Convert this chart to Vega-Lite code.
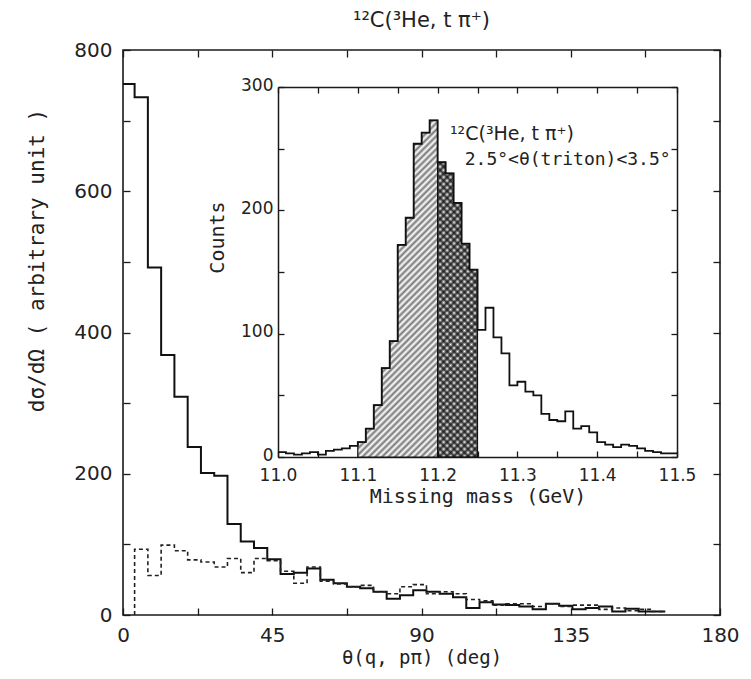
{
  "$schema": "https://vega.github.io/schema/vega-lite/v6.json",
  "width": 597,
  "height": 565,
  "autosize": {"type": "none"},
  "padding": {"left": 123, "top": 50, "right": 31, "bottom": 64},
  "background": "white",
  "title": {"text": "¹²C(³He, t π⁺)", "fontSize": 21, "fontWeight": "normal", "font": "DejaVu Sans", "color": "#222", "offset": 9},
  "config": {
    "view": {"stroke": "#1a1a1a", "strokeWidth": 1.6},
    "font": "DejaVu Sans",
    "axis": {"grid": false, "labelFont": "DejaVu Sans", "titleFont": "DejaVu Sans Mono", "labelColor": "#222", "titleColor": "#222", "tickColor": "#1a1a1a", "domainColor": "#1a1a1a", "titleFontWeight": "normal", "tickWidth": 1.3, "labelFlush": false, "labelOverlap": false}
  },
  "datasets": {
    "solid": [
      {"deg": 0, "v": 752}, {"deg": 3.5, "v": 733}, {"deg": 7.5, "v": 492}, {"deg": 11.5, "v": 368},
      {"deg": 15.5, "v": 309}, {"deg": 19.5, "v": 238}, {"deg": 23.5, "v": 201}, {"deg": 27.5, "v": 197},
      {"deg": 31.5, "v": 129}, {"deg": 35.5, "v": 104}, {"deg": 39.5, "v": 95}, {"deg": 43.5, "v": 79},
      {"deg": 47.5, "v": 58}, {"deg": 51.5, "v": 60}, {"deg": 55.5, "v": 66}, {"deg": 59.5, "v": 50},
      {"deg": 63.5, "v": 45}, {"deg": 67.5, "v": 40}, {"deg": 71.5, "v": 38}, {"deg": 75.5, "v": 33},
      {"deg": 79.5, "v": 23}, {"deg": 83.5, "v": 28}, {"deg": 87.5, "v": 35}, {"deg": 91.5, "v": 33},
      {"deg": 95.5, "v": 30}, {"deg": 99.5, "v": 25}, {"deg": 103.5, "v": 10}, {"deg": 107.5, "v": 18},
      {"deg": 111.5, "v": 15}, {"deg": 115.5, "v": 14}, {"deg": 119.5, "v": 12}, {"deg": 123.5, "v": 8},
      {"deg": 127.5, "v": 16}, {"deg": 131.5, "v": 13}, {"deg": 135.5, "v": 8}, {"deg": 139.5, "v": 10},
      {"deg": 143.5, "v": 12}, {"deg": 147.5, "v": 5}, {"deg": 151.5, "v": 9}, {"deg": 155.5, "v": 5},
      {"deg": 159.5, "v": 5}, {"deg": 163.5, "v": 5}
    ],
    "dashed": [
      {"i": 0, "deg": 3.5, "v": 0}, {"i": 1, "deg": 3.5, "v": 93}, {"i": 2, "deg": 7.5, "v": 56}, {"i": 3, "deg": 11.5, "v": 99},
      {"i": 4, "deg": 15.5, "v": 91}, {"i": 5, "deg": 19.5, "v": 78}, {"i": 6, "deg": 23.5, "v": 75}, {"i": 7, "deg": 27.5, "v": 68},
      {"i": 8, "deg": 31.5, "v": 80}, {"i": 9, "deg": 35.5, "v": 60}, {"i": 10, "deg": 39.5, "v": 80}, {"i": 11, "deg": 43.5, "v": 77},
      {"i": 12, "deg": 47.5, "v": 62}, {"i": 13, "deg": 51.5, "v": 45}, {"i": 14, "deg": 55.5, "v": 68}, {"i": 15, "deg": 59.5, "v": 48},
      {"i": 16, "deg": 63.5, "v": 44}, {"i": 17, "deg": 67.5, "v": 40}, {"i": 18, "deg": 71.5, "v": 42}, {"i": 19, "deg": 75.5, "v": 33},
      {"i": 20, "deg": 79.5, "v": 30}, {"i": 21, "deg": 83.5, "v": 40}, {"i": 22, "deg": 87.5, "v": 43}, {"i": 23, "deg": 91.5, "v": 30},
      {"i": 24, "deg": 95.5, "v": 33}, {"i": 25, "deg": 99.5, "v": 30}, {"i": 26, "deg": 103.5, "v": 22}, {"i": 27, "deg": 107.5, "v": 20},
      {"i": 28, "deg": 111.5, "v": 14}, {"i": 29, "deg": 115.5, "v": 16}, {"i": 30, "deg": 119.5, "v": 16}, {"i": 31, "deg": 123.5, "v": 12},
      {"i": 32, "deg": 127.5, "v": 16}, {"i": 33, "deg": 131.5, "v": 12}, {"i": 34, "deg": 135.5, "v": 14}, {"i": 35, "deg": 139.5, "v": 14},
      {"i": 36, "deg": 143.5, "v": 8}, {"i": 37, "deg": 147.5, "v": 10}, {"i": 38, "deg": 151.5, "v": 6}, {"i": 39, "deg": 155.5, "v": 8},
      {"i": 40, "deg": 159.5, "v": 5}, {"i": 41, "deg": 163.5, "v": 5}
    ],
    "inset": [
      {"m": 11.00, "c": 4}, {"m": 11.01, "c": 3}, {"m": 11.02, "c": 2}, {"m": 11.03, "c": 3}, {"m": 11.04, "c": 4},
      {"m": 11.05, "c": 2}, {"m": 11.06, "c": 5}, {"m": 11.07, "c": 6}, {"m": 11.08, "c": 7}, {"m": 11.09, "c": 9},
      {"m": 11.10, "c": 12}, {"m": 11.11, "c": 23}, {"m": 11.12, "c": 42}, {"m": 11.13, "c": 72}, {"m": 11.14, "c": 94},
      {"m": 11.15, "c": 172}, {"m": 11.16, "c": 194}, {"m": 11.17, "c": 254}, {"m": 11.18, "c": 263}, {"m": 11.19, "c": 273},
      {"m": 11.20, "c": 239}, {"m": 11.21, "c": 230}, {"m": 11.22, "c": 206}, {"m": 11.23, "c": 173}, {"m": 11.24, "c": 152},
      {"m": 11.25, "c": 103}, {"m": 11.26, "c": 121}, {"m": 11.27, "c": 97}, {"m": 11.28, "c": 84}, {"m": 11.29, "c": 58},
      {"m": 11.30, "c": 61}, {"m": 11.31, "c": 53}, {"m": 11.32, "c": 50}, {"m": 11.33, "c": 35}, {"m": 11.34, "c": 30},
      {"m": 11.35, "c": 29}, {"m": 11.36, "c": 37}, {"m": 11.37, "c": 23}, {"m": 11.38, "c": 25}, {"m": 11.39, "c": 20},
      {"m": 11.40, "c": 12}, {"m": 11.41, "c": 10}, {"m": 11.42, "c": 8}, {"m": 11.43, "c": 10}, {"m": 11.44, "c": 9},
      {"m": 11.45, "c": 7}, {"m": 11.46, "c": 5}, {"m": 11.47, "c": 4}, {"m": 11.48, "c": 3}, {"m": 11.49, "c": 3},
      {"m": 11.50, "c": 3}
    ],
    "notes": [
      {"m": 11.2155, "c": 262, "t": "¹²C(³He, t π⁺)"},
      {"m": 11.234, "c": 241, "t": "2.5°<θ(triton)<3.5°"}
    ]
  },
  "layer": [
    {
      "encoding": {
        "x": {"field": "deg", "type": "quantitative", "scale": {"domain": [0, 180], "nice": false},
          "axis": {"orient": "bottom", "values": [0, 22.5, 45, 67.5, 90, 112.5, 135, 157.5, 180], "labelExpr": "datum.value % 45 === 0 ? datum.label : ''", "tickSize": -7, "labelPadding": 17, "domain": false, "labelFontSize": 20, "title": "θ(q, pπ) (deg)", "titleFontSize": 19, "titlePadding": 3}},
        "y": {"field": "v", "type": "quantitative", "scale": {"domain": [0, 800], "nice": false},
          "axis": {"orient": "left", "values": [0, 100, 200, 300, 400, 500, 600, 700, 800], "labelExpr": "datum.value % 200 === 0 ? datum.label : ''", "tickSize": -7, "labelPadding": 18, "domain": false, "labelFontSize": 20, "title": "dσ/dΩ ( arbitrary unit )", "titleFontSize": 21, "titleX": -76, "titleY": 210}}
      },
      "layer": [
        {"data": {"name": "solid"}, "mark": {"type": "line", "interpolate": "step-after", "color": "#111", "strokeWidth": 2}},
        {"data": {"name": "dashed"}, "mark": {"type": "line", "interpolate": "step-after", "color": "#222", "strokeWidth": 1.6, "strokeDash": [4, 3]},
          "encoding": {"order": {"field": "i", "type": "quantitative"}}}
      ]
    },
    {
      "data": {"name": "solid"},
      "mark": {"type": "point", "opacity": 0},
      "encoding": {
        "x": {"field": "deg", "type": "quantitative", "scale": {"domain": [0, 180], "nice": false},
          "axis": {"orient": "top", "values": [0, 22.5, 45, 67.5, 90, 112.5, 135, 157.5, 180], "labels": false, "tickSize": -7, "domain": false, "title": null}},
        "y": {"field": "v", "type": "quantitative", "scale": {"domain": [0, 800], "nice": false},
          "axis": {"orient": "right", "values": [0, 100, 200, 300, 400, 500, 600, 700, 800], "labels": false, "tickSize": -7, "domain": false, "title": null}}
      }
    },
    {
      "data": {"name": "inset"},
      "encoding": {
        "x": {"field": "m", "type": "quantitative", "scale": {"domain": [11, 11.5], "range": [155, 554], "nice": false, "zero": false},
          "axis": {"orient": "bottom", "offset": -158, "values": [11, 11.05, 11.1, 11.15, 11.2, 11.25, 11.3, 11.35, 11.4, 11.45, 11.5], "format": ".1f", "labelExpr": "abs(datum.value * 10 - round(datum.value * 10)) < 0.01 ? datum.label : ''", "tickSize": -6, "labelPadding": 16, "domainWidth": 1.5, "labelFontSize": 17, "title": "Missing mass (GeV)", "titleFontSize": 20, "titlePadding": 3}},
        "y": {"field": "c", "type": "quantitative", "scale": {"domain": [0, 300], "range": [407, 37], "nice": false},
          "axis": {"orient": "left", "offset": -155, "values": [0, 50, 100, 150, 200, 250, 300], "labelExpr": "datum.value % 100 === 0 ? datum.label : ''", "tickSize": -6, "labelPadding": 11, "labelOffset": -2, "domainWidth": 1.5, "labelFontSize": 17, "title": "Counts", "titleFontSize": 20, "titleX": -51, "titleY": 187}}
      },
      "layer": [
        {"transform": [{"filter": {"field": "m", "range": [11.095, 11.205]}}],
          "mark": {"type": "area", "interpolate": "step-after", "stroke": "#111", "strokeWidth": 1.2,
            "fill": {"gradient": "linear", "x1": 0, "y1": 0, "x2": 0.277, "y2": 1.17, "stops": [
              {"offset": 0, "color": "#fff"}, {"offset": 0.0078, "color": "#777"}, {"offset": 0.0156, "color": "#fff"}, {"offset": 0.0234, "color": "#777"},
              {"offset": 0.0313, "color": "#fff"}, {"offset": 0.0391, "color": "#777"}, {"offset": 0.0469, "color": "#fff"}, {"offset": 0.0547, "color": "#777"},
              {"offset": 0.0625, "color": "#fff"}, {"offset": 0.0703, "color": "#777"}, {"offset": 0.0781, "color": "#fff"}, {"offset": 0.0859, "color": "#777"},
              {"offset": 0.0938, "color": "#fff"}, {"offset": 0.1016, "color": "#777"}, {"offset": 0.1094, "color": "#fff"}, {"offset": 0.1172, "color": "#777"},
              {"offset": 0.125, "color": "#fff"}, {"offset": 0.1328, "color": "#777"}, {"offset": 0.1406, "color": "#fff"}, {"offset": 0.1484, "color": "#777"},
              {"offset": 0.1563, "color": "#fff"}, {"offset": 0.1641, "color": "#777"}, {"offset": 0.1719, "color": "#fff"}, {"offset": 0.1797, "color": "#777"},
              {"offset": 0.1875, "color": "#fff"}, {"offset": 0.1953, "color": "#777"}, {"offset": 0.2031, "color": "#fff"}, {"offset": 0.2109, "color": "#777"},
              {"offset": 0.2188, "color": "#fff"}, {"offset": 0.2266, "color": "#777"}, {"offset": 0.2344, "color": "#fff"}, {"offset": 0.2422, "color": "#777"},
              {"offset": 0.25, "color": "#fff"}, {"offset": 0.2578, "color": "#777"}, {"offset": 0.2656, "color": "#fff"}, {"offset": 0.2734, "color": "#777"},
              {"offset": 0.2813, "color": "#fff"}, {"offset": 0.2891, "color": "#777"}, {"offset": 0.2969, "color": "#fff"}, {"offset": 0.3047, "color": "#777"},
              {"offset": 0.3125, "color": "#fff"}, {"offset": 0.3203, "color": "#777"}, {"offset": 0.3281, "color": "#fff"}, {"offset": 0.3359, "color": "#777"},
              {"offset": 0.3438, "color": "#fff"}, {"offset": 0.3516, "color": "#777"}, {"offset": 0.3594, "color": "#fff"}, {"offset": 0.3672, "color": "#777"},
              {"offset": 0.375, "color": "#fff"}, {"offset": 0.3828, "color": "#777"}, {"offset": 0.3906, "color": "#fff"}, {"offset": 0.3984, "color": "#777"},
              {"offset": 0.4063, "color": "#fff"}, {"offset": 0.4141, "color": "#777"}, {"offset": 0.4219, "color": "#fff"}, {"offset": 0.4297, "color": "#777"},
              {"offset": 0.4375, "color": "#fff"}, {"offset": 0.4453, "color": "#777"}, {"offset": 0.4531, "color": "#fff"}, {"offset": 0.4609, "color": "#777"},
              {"offset": 0.4688, "color": "#fff"}, {"offset": 0.4766, "color": "#777"}, {"offset": 0.4844, "color": "#fff"}, {"offset": 0.4922, "color": "#777"},
              {"offset": 0.5, "color": "#fff"}, {"offset": 0.5078, "color": "#777"}, {"offset": 0.5156, "color": "#fff"}, {"offset": 0.5234, "color": "#777"},
              {"offset": 0.5313, "color": "#fff"}, {"offset": 0.5391, "color": "#777"}, {"offset": 0.5469, "color": "#fff"}, {"offset": 0.5547, "color": "#777"},
              {"offset": 0.5625, "color": "#fff"}, {"offset": 0.5703, "color": "#777"}, {"offset": 0.5781, "color": "#fff"}, {"offset": 0.5859, "color": "#777"},
              {"offset": 0.5938, "color": "#fff"}, {"offset": 0.6016, "color": "#777"}, {"offset": 0.6094, "color": "#fff"}, {"offset": 0.6172, "color": "#777"},
              {"offset": 0.625, "color": "#fff"}, {"offset": 0.6328, "color": "#777"}, {"offset": 0.6406, "color": "#fff"}, {"offset": 0.6484, "color": "#777"},
              {"offset": 0.6563, "color": "#fff"}, {"offset": 0.6641, "color": "#777"}, {"offset": 0.6719, "color": "#fff"}, {"offset": 0.6797, "color": "#777"},
              {"offset": 0.6875, "color": "#fff"}, {"offset": 0.6953, "color": "#777"}, {"offset": 0.7031, "color": "#fff"}, {"offset": 0.7109, "color": "#777"},
              {"offset": 0.7188, "color": "#fff"}, {"offset": 0.7266, "color": "#777"}, {"offset": 0.7344, "color": "#fff"}, {"offset": 0.7422, "color": "#777"},
              {"offset": 0.75, "color": "#fff"}, {"offset": 0.7578, "color": "#777"}, {"offset": 0.7656, "color": "#fff"}, {"offset": 0.7734, "color": "#777"},
              {"offset": 0.7813, "color": "#fff"}, {"offset": 0.7891, "color": "#777"}, {"offset": 0.7969, "color": "#fff"}, {"offset": 0.8047, "color": "#777"},
              {"offset": 0.8125, "color": "#fff"}, {"offset": 0.8203, "color": "#777"}, {"offset": 0.8281, "color": "#fff"}, {"offset": 0.8359, "color": "#777"},
              {"offset": 0.8438, "color": "#fff"}, {"offset": 0.8516, "color": "#777"}, {"offset": 0.8594, "color": "#fff"}, {"offset": 0.8672, "color": "#777"},
              {"offset": 0.875, "color": "#fff"}, {"offset": 0.8828, "color": "#777"}, {"offset": 0.8906, "color": "#fff"}, {"offset": 0.8984, "color": "#777"},
              {"offset": 0.9063, "color": "#fff"}, {"offset": 0.9141, "color": "#777"}, {"offset": 0.9219, "color": "#fff"}, {"offset": 0.9297, "color": "#777"},
              {"offset": 0.9375, "color": "#fff"}, {"offset": 0.9453, "color": "#777"}, {"offset": 0.9531, "color": "#fff"}, {"offset": 0.9609, "color": "#777"},
              {"offset": 0.9688, "color": "#fff"}, {"offset": 0.9766, "color": "#777"}, {"offset": 0.9844, "color": "#fff"}, {"offset": 0.9922, "color": "#777"},
              {"offset": 1, "color": "#fff"}
            ]}}},
        {"transform": [{"filter": {"field": "m", "range": [11.195, 11.255]}}],
          "mark": {"type": "area", "interpolate": "step-after", "stroke": "#111", "strokeWidth": 1.2,
            "fill": {"gradient": "linear", "x1": 0, "y1": 0, "x2": 0.151, "y2": 1.115, "stops": [
              {"offset": 0, "color": "rgba(0,0,0,0)"}, {"offset": 0.0104, "color": "rgba(20,20,20,0.8)"}, {"offset": 0.0208, "color": "rgba(0,0,0,0)"}, {"offset": 0.0313, "color": "rgba(20,20,20,0.8)"},
              {"offset": 0.0417, "color": "rgba(0,0,0,0)"}, {"offset": 0.0521, "color": "rgba(20,20,20,0.8)"}, {"offset": 0.0625, "color": "rgba(0,0,0,0)"}, {"offset": 0.0729, "color": "rgba(20,20,20,0.8)"},
              {"offset": 0.0833, "color": "rgba(0,0,0,0)"}, {"offset": 0.0938, "color": "rgba(20,20,20,0.8)"}, {"offset": 0.1042, "color": "rgba(0,0,0,0)"}, {"offset": 0.1146, "color": "rgba(20,20,20,0.8)"},
              {"offset": 0.125, "color": "rgba(0,0,0,0)"}, {"offset": 0.1354, "color": "rgba(20,20,20,0.8)"}, {"offset": 0.1458, "color": "rgba(0,0,0,0)"}, {"offset": 0.1563, "color": "rgba(20,20,20,0.8)"},
              {"offset": 0.1667, "color": "rgba(0,0,0,0)"}, {"offset": 0.1771, "color": "rgba(20,20,20,0.8)"}, {"offset": 0.1875, "color": "rgba(0,0,0,0)"}, {"offset": 0.1979, "color": "rgba(20,20,20,0.8)"},
              {"offset": 0.2083, "color": "rgba(0,0,0,0)"}, {"offset": 0.2188, "color": "rgba(20,20,20,0.8)"}, {"offset": 0.2292, "color": "rgba(0,0,0,0)"}, {"offset": 0.2396, "color": "rgba(20,20,20,0.8)"},
              {"offset": 0.25, "color": "rgba(0,0,0,0)"}, {"offset": 0.2604, "color": "rgba(20,20,20,0.8)"}, {"offset": 0.2708, "color": "rgba(0,0,0,0)"}, {"offset": 0.2813, "color": "rgba(20,20,20,0.8)"},
              {"offset": 0.2917, "color": "rgba(0,0,0,0)"}, {"offset": 0.3021, "color": "rgba(20,20,20,0.8)"}, {"offset": 0.3125, "color": "rgba(0,0,0,0)"}, {"offset": 0.3229, "color": "rgba(20,20,20,0.8)"},
              {"offset": 0.3333, "color": "rgba(0,0,0,0)"}, {"offset": 0.3438, "color": "rgba(20,20,20,0.8)"}, {"offset": 0.3542, "color": "rgba(0,0,0,0)"}, {"offset": 0.3646, "color": "rgba(20,20,20,0.8)"},
              {"offset": 0.375, "color": "rgba(0,0,0,0)"}, {"offset": 0.3854, "color": "rgba(20,20,20,0.8)"}, {"offset": 0.3958, "color": "rgba(0,0,0,0)"}, {"offset": 0.4063, "color": "rgba(20,20,20,0.8)"},
              {"offset": 0.4167, "color": "rgba(0,0,0,0)"}, {"offset": 0.4271, "color": "rgba(20,20,20,0.8)"}, {"offset": 0.4375, "color": "rgba(0,0,0,0)"}, {"offset": 0.4479, "color": "rgba(20,20,20,0.8)"},
              {"offset": 0.4583, "color": "rgba(0,0,0,0)"}, {"offset": 0.4688, "color": "rgba(20,20,20,0.8)"}, {"offset": 0.4792, "color": "rgba(0,0,0,0)"}, {"offset": 0.4896, "color": "rgba(20,20,20,0.8)"},
              {"offset": 0.5, "color": "rgba(0,0,0,0)"}, {"offset": 0.5104, "color": "rgba(20,20,20,0.8)"}, {"offset": 0.5208, "color": "rgba(0,0,0,0)"}, {"offset": 0.5313, "color": "rgba(20,20,20,0.8)"},
              {"offset": 0.5417, "color": "rgba(0,0,0,0)"}, {"offset": 0.5521, "color": "rgba(20,20,20,0.8)"}, {"offset": 0.5625, "color": "rgba(0,0,0,0)"}, {"offset": 0.5729, "color": "rgba(20,20,20,0.8)"},
              {"offset": 0.5833, "color": "rgba(0,0,0,0)"}, {"offset": 0.5938, "color": "rgba(20,20,20,0.8)"}, {"offset": 0.6042, "color": "rgba(0,0,0,0)"}, {"offset": 0.6146, "color": "rgba(20,20,20,0.8)"},
              {"offset": 0.625, "color": "rgba(0,0,0,0)"}, {"offset": 0.6354, "color": "rgba(20,20,20,0.8)"}, {"offset": 0.6458, "color": "rgba(0,0,0,0)"}, {"offset": 0.6563, "color": "rgba(20,20,20,0.8)"},
              {"offset": 0.6667, "color": "rgba(0,0,0,0)"}, {"offset": 0.6771, "color": "rgba(20,20,20,0.8)"}, {"offset": 0.6875, "color": "rgba(0,0,0,0)"}, {"offset": 0.6979, "color": "rgba(20,20,20,0.8)"},
              {"offset": 0.7083, "color": "rgba(0,0,0,0)"}, {"offset": 0.7188, "color": "rgba(20,20,20,0.8)"}, {"offset": 0.7292, "color": "rgba(0,0,0,0)"}, {"offset": 0.7396, "color": "rgba(20,20,20,0.8)"},
              {"offset": 0.75, "color": "rgba(0,0,0,0)"}, {"offset": 0.7604, "color": "rgba(20,20,20,0.8)"}, {"offset": 0.7708, "color": "rgba(0,0,0,0)"}, {"offset": 0.7813, "color": "rgba(20,20,20,0.8)"},
              {"offset": 0.7917, "color": "rgba(0,0,0,0)"}, {"offset": 0.8021, "color": "rgba(20,20,20,0.8)"}, {"offset": 0.8125, "color": "rgba(0,0,0,0)"}, {"offset": 0.8229, "color": "rgba(20,20,20,0.8)"},
              {"offset": 0.8333, "color": "rgba(0,0,0,0)"}, {"offset": 0.8438, "color": "rgba(20,20,20,0.8)"}, {"offset": 0.8542, "color": "rgba(0,0,0,0)"}, {"offset": 0.8646, "color": "rgba(20,20,20,0.8)"},
              {"offset": 0.875, "color": "rgba(0,0,0,0)"}, {"offset": 0.8854, "color": "rgba(20,20,20,0.8)"}, {"offset": 0.8958, "color": "rgba(0,0,0,0)"}, {"offset": 0.9063, "color": "rgba(20,20,20,0.8)"},
              {"offset": 0.9167, "color": "rgba(0,0,0,0)"}, {"offset": 0.9271, "color": "rgba(20,20,20,0.8)"}, {"offset": 0.9375, "color": "rgba(0,0,0,0)"}, {"offset": 0.9479, "color": "rgba(20,20,20,0.8)"},
              {"offset": 0.9583, "color": "rgba(0,0,0,0)"}, {"offset": 0.9688, "color": "rgba(20,20,20,0.8)"}, {"offset": 0.9792, "color": "rgba(0,0,0,0)"}, {"offset": 0.9896, "color": "rgba(20,20,20,0.8)"},
              {"offset": 1, "color": "rgba(0,0,0,0)"}
            ]}}},
        {"transform": [{"filter": {"field": "m", "range": [11.195, 11.255]}}],
          "mark": {"type": "area", "interpolate": "step-after", "strokeWidth": 0,
            "fill": {"gradient": "linear", "x1": 1, "y1": 0, "x2": 0.849, "y2": 1.115, "stops": [
              {"offset": 0, "color": "rgba(0,0,0,0)"}, {"offset": 0.0104, "color": "rgba(20,20,20,0.8)"}, {"offset": 0.0208, "color": "rgba(0,0,0,0)"}, {"offset": 0.0313, "color": "rgba(20,20,20,0.8)"},
              {"offset": 0.0417, "color": "rgba(0,0,0,0)"}, {"offset": 0.0521, "color": "rgba(20,20,20,0.8)"}, {"offset": 0.0625, "color": "rgba(0,0,0,0)"}, {"offset": 0.0729, "color": "rgba(20,20,20,0.8)"},
              {"offset": 0.0833, "color": "rgba(0,0,0,0)"}, {"offset": 0.0938, "color": "rgba(20,20,20,0.8)"}, {"offset": 0.1042, "color": "rgba(0,0,0,0)"}, {"offset": 0.1146, "color": "rgba(20,20,20,0.8)"},
              {"offset": 0.125, "color": "rgba(0,0,0,0)"}, {"offset": 0.1354, "color": "rgba(20,20,20,0.8)"}, {"offset": 0.1458, "color": "rgba(0,0,0,0)"}, {"offset": 0.1563, "color": "rgba(20,20,20,0.8)"},
              {"offset": 0.1667, "color": "rgba(0,0,0,0)"}, {"offset": 0.1771, "color": "rgba(20,20,20,0.8)"}, {"offset": 0.1875, "color": "rgba(0,0,0,0)"}, {"offset": 0.1979, "color": "rgba(20,20,20,0.8)"},
              {"offset": 0.2083, "color": "rgba(0,0,0,0)"}, {"offset": 0.2188, "color": "rgba(20,20,20,0.8)"}, {"offset": 0.2292, "color": "rgba(0,0,0,0)"}, {"offset": 0.2396, "color": "rgba(20,20,20,0.8)"},
              {"offset": 0.25, "color": "rgba(0,0,0,0)"}, {"offset": 0.2604, "color": "rgba(20,20,20,0.8)"}, {"offset": 0.2708, "color": "rgba(0,0,0,0)"}, {"offset": 0.2813, "color": "rgba(20,20,20,0.8)"},
              {"offset": 0.2917, "color": "rgba(0,0,0,0)"}, {"offset": 0.3021, "color": "rgba(20,20,20,0.8)"}, {"offset": 0.3125, "color": "rgba(0,0,0,0)"}, {"offset": 0.3229, "color": "rgba(20,20,20,0.8)"},
              {"offset": 0.3333, "color": "rgba(0,0,0,0)"}, {"offset": 0.3438, "color": "rgba(20,20,20,0.8)"}, {"offset": 0.3542, "color": "rgba(0,0,0,0)"}, {"offset": 0.3646, "color": "rgba(20,20,20,0.8)"},
              {"offset": 0.375, "color": "rgba(0,0,0,0)"}, {"offset": 0.3854, "color": "rgba(20,20,20,0.8)"}, {"offset": 0.3958, "color": "rgba(0,0,0,0)"}, {"offset": 0.4063, "color": "rgba(20,20,20,0.8)"},
              {"offset": 0.4167, "color": "rgba(0,0,0,0)"}, {"offset": 0.4271, "color": "rgba(20,20,20,0.8)"}, {"offset": 0.4375, "color": "rgba(0,0,0,0)"}, {"offset": 0.4479, "color": "rgba(20,20,20,0.8)"},
              {"offset": 0.4583, "color": "rgba(0,0,0,0)"}, {"offset": 0.4688, "color": "rgba(20,20,20,0.8)"}, {"offset": 0.4792, "color": "rgba(0,0,0,0)"}, {"offset": 0.4896, "color": "rgba(20,20,20,0.8)"},
              {"offset": 0.5, "color": "rgba(0,0,0,0)"}, {"offset": 0.5104, "color": "rgba(20,20,20,0.8)"}, {"offset": 0.5208, "color": "rgba(0,0,0,0)"}, {"offset": 0.5313, "color": "rgba(20,20,20,0.8)"},
              {"offset": 0.5417, "color": "rgba(0,0,0,0)"}, {"offset": 0.5521, "color": "rgba(20,20,20,0.8)"}, {"offset": 0.5625, "color": "rgba(0,0,0,0)"}, {"offset": 0.5729, "color": "rgba(20,20,20,0.8)"},
              {"offset": 0.5833, "color": "rgba(0,0,0,0)"}, {"offset": 0.5938, "color": "rgba(20,20,20,0.8)"}, {"offset": 0.6042, "color": "rgba(0,0,0,0)"}, {"offset": 0.6146, "color": "rgba(20,20,20,0.8)"},
              {"offset": 0.625, "color": "rgba(0,0,0,0)"}, {"offset": 0.6354, "color": "rgba(20,20,20,0.8)"}, {"offset": 0.6458, "color": "rgba(0,0,0,0)"}, {"offset": 0.6563, "color": "rgba(20,20,20,0.8)"},
              {"offset": 0.6667, "color": "rgba(0,0,0,0)"}, {"offset": 0.6771, "color": "rgba(20,20,20,0.8)"}, {"offset": 0.6875, "color": "rgba(0,0,0,0)"}, {"offset": 0.6979, "color": "rgba(20,20,20,0.8)"},
              {"offset": 0.7083, "color": "rgba(0,0,0,0)"}, {"offset": 0.7188, "color": "rgba(20,20,20,0.8)"}, {"offset": 0.7292, "color": "rgba(0,0,0,0)"}, {"offset": 0.7396, "color": "rgba(20,20,20,0.8)"},
              {"offset": 0.75, "color": "rgba(0,0,0,0)"}, {"offset": 0.7604, "color": "rgba(20,20,20,0.8)"}, {"offset": 0.7708, "color": "rgba(0,0,0,0)"}, {"offset": 0.7813, "color": "rgba(20,20,20,0.8)"},
              {"offset": 0.7917, "color": "rgba(0,0,0,0)"}, {"offset": 0.8021, "color": "rgba(20,20,20,0.8)"}, {"offset": 0.8125, "color": "rgba(0,0,0,0)"}, {"offset": 0.8229, "color": "rgba(20,20,20,0.8)"},
              {"offset": 0.8333, "color": "rgba(0,0,0,0)"}, {"offset": 0.8438, "color": "rgba(20,20,20,0.8)"}, {"offset": 0.8542, "color": "rgba(0,0,0,0)"}, {"offset": 0.8646, "color": "rgba(20,20,20,0.8)"},
              {"offset": 0.875, "color": "rgba(0,0,0,0)"}, {"offset": 0.8854, "color": "rgba(20,20,20,0.8)"}, {"offset": 0.8958, "color": "rgba(0,0,0,0)"}, {"offset": 0.9063, "color": "rgba(20,20,20,0.8)"},
              {"offset": 0.9167, "color": "rgba(0,0,0,0)"}, {"offset": 0.9271, "color": "rgba(20,20,20,0.8)"}, {"offset": 0.9375, "color": "rgba(0,0,0,0)"}, {"offset": 0.9479, "color": "rgba(20,20,20,0.8)"},
              {"offset": 0.9583, "color": "rgba(0,0,0,0)"}, {"offset": 0.9688, "color": "rgba(20,20,20,0.8)"}, {"offset": 0.9792, "color": "rgba(0,0,0,0)"}, {"offset": 0.9896, "color": "rgba(20,20,20,0.8)"},
              {"offset": 1, "color": "rgba(0,0,0,0)"}
            ]}}},
        {"mark": {"type": "line", "interpolate": "step-after", "color": "#111", "strokeWidth": 1.8}},
        {"data": {"name": "notes"}, "transform": [{"filter": "datum.c > 250"}],
          "mark": {"type": "text", "align": "left", "baseline": "middle", "fontSize": 19, "font": "DejaVu Sans", "color": "#222"},
          "encoding": {"text": {"field": "t", "type": "nominal"}}},
        {"data": {"name": "notes"}, "transform": [{"filter": "datum.c < 250"}],
          "mark": {"type": "text", "align": "left", "baseline": "middle", "fontSize": 18, "font": "DejaVu Sans Mono", "color": "#222"},
          "encoding": {"text": {"field": "t", "type": "nominal"}}}
      ]
    },
    {
      "data": {"name": "inset"},
      "mark": {"type": "point", "opacity": 0},
      "encoding": {
        "x": {"field": "m", "type": "quantitative", "scale": {"domain": [11, 11.5], "range": [155, 554], "nice": false, "zero": false},
          "axis": {"orient": "top", "offset": -37, "values": [11, 11.05, 11.1, 11.15, 11.2, 11.25, 11.3, 11.35, 11.4, 11.45, 11.5], "labels": false, "tickSize": -6, "domainWidth": 1.5, "title": null}},
        "y": {"field": "c", "type": "quantitative", "scale": {"domain": [0, 300], "range": [407, 37], "nice": false},
          "axis": {"orient": "right", "offset": -43, "values": [0, 50, 100, 150, 200, 250, 300], "labels": false, "tickSize": -6, "domainWidth": 1.5, "title": null}}
      }
    }
  ],
  "resolve": {"scale": {"x": "independent", "y": "independent"}, "axis": {"x": "independent", "y": "independent"}}
}
